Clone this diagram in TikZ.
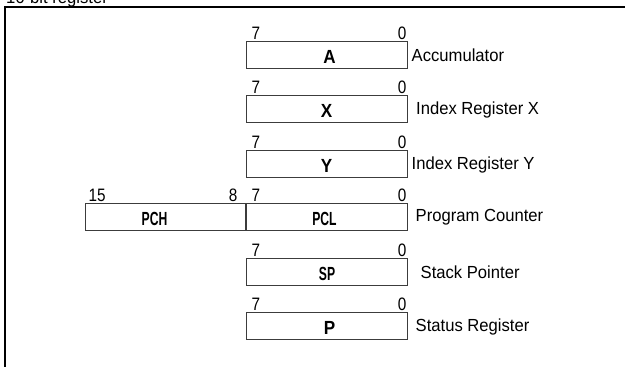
\documentclass[tikz,border=0pt]{standalone}
\usepackage{fontspec}
\setmainfont{Liberation Sans}
\newfontfamily\lblfont[FakeStretch=0.95]{Liberation Sans}
\newfontfamily\bitfont[FakeStretch=0.85]{Liberation Sans}
\newfontfamily\regfont[FakeStretch=0.9]{Liberation Sans Bold}
\newfontfamily\regfontnarrow[FakeStretch=0.64]{Liberation Sans Bold}
\definecolor{linegray}{RGB}{60,60,60}
\begin{document}
\begin{tikzpicture}[x=1pt,y=-1pt,
  regbox/.style={draw=linegray, line width=1pt, minimum width=161pt,
    minimum height=27pt, inner sep=0pt, anchor=north west},
  hibox/.style={regbox, minimum width=160pt},
  bitlbl/.style={inner sep=0pt, font=\bitfont\fontsize{18}{20}\selectfont},
  regname/.style={inner sep=0pt, anchor=base, font=\regfont\fontsize{19}{21}\selectfont},
  regnamewide/.style={regname, font=\regfontnarrow\fontsize{19}{21}\selectfont},
  desc/.style={inner sep=0pt, anchor=west, font=\lblfont\fontsize{17.5}{20}\selectfont}]
\useasboundingbox (0,0) rectangle (625,367);

% caption above the frame
\node[inner sep=0pt, anchor=base west, font=\lblfont\fontsize{17.5}{20}\selectfont]
  (title) at (6,3) {16-bit register};

% enclosing frame
\draw[line width=2pt] (5,367) -- (5,7) -- (625,7);

% 8-bit registers
\node[regbox] (ra)  at (245.5,41)    {};
\node[regbox] (rx)  at (245.5,95.3)  {};
\node[regbox] (ry)  at (245.5,149.5) {};
\node[regbox] (pcl) at (245.5,203.3) {};
\node[hibox, anchor=north east] (pch) at (245.5,203.3) {};
\node[regbox] (rsp) at (245.5,258)   {};
\node[regbox] (rp)  at (245.5,312.3) {};

% bit numbers
\foreach \r in {ra,rx,ry,pcl,rsp,rp}{
  \node[bitlbl, anchor=base west] (\r-hi) at ([xshift=6pt,yshift=1.5pt]\r.north west) {7};
  \node[bitlbl, anchor=base east] (\r-lo) at ([xshift=-1pt,yshift=1.5pt]\r.north east) {0};
}
\node[bitlbl, anchor=base west] (pch-hi) at ([xshift=4pt,yshift=1.5pt]pch.north west) {15};
\node[bitlbl, anchor=base east] (pch-lo) at ([xshift=-8pt,yshift=1.5pt]pch.north east) {8};

% register names
\node[regname] (na)   at ([xshift=3pt,yshift=-8.5pt]ra.center)  {A};
\node[regname] (nx)   at ([xshift=0pt,yshift=-8.5pt]rx.center)  {X};
\node[regname] (ny)   at ([xshift=0pt,yshift=-8.5pt]ry.center)  {Y};
\node[regnamewide] (npcl) at ([xshift=-2pt,yshift=-8.5pt]pcl.center) {PCL};
\node[regnamewide] (npch) at ([xshift=-10.5pt,yshift=-8.5pt]pch.center) {PCH};
\node[regnamewide] (nsp)  at ([xshift=0.5pt,yshift=-8.5pt]rsp.center) {SP};
\node[regname] (np)   at ([xshift=3pt,yshift=-8.5pt]rp.center)  {P};

% descriptions
\node[desc] (da)  at ([xshift=4pt,yshift=-0.5pt]ra.east)  {Accumulator};
\node[desc] (dx)  at ([xshift=8.5pt,yshift=-1pt]rx.east)  {Index Register X};
\node[desc] (dy)  at ([xshift=4pt,yshift=-1pt]ry.east)    {Index Register Y};
\node[desc] (dpc) at ([xshift=8pt,yshift=0pt]pcl.east)    {Program Counter};
\node[desc] (dsp) at ([xshift=13pt,yshift=-0.5pt]rsp.east) {Stack Pointer};
\node[desc] (dp)  at ([xshift=8pt,yshift=-1pt]rp.east)    {Status Register};
\end{tikzpicture}
\end{document}
